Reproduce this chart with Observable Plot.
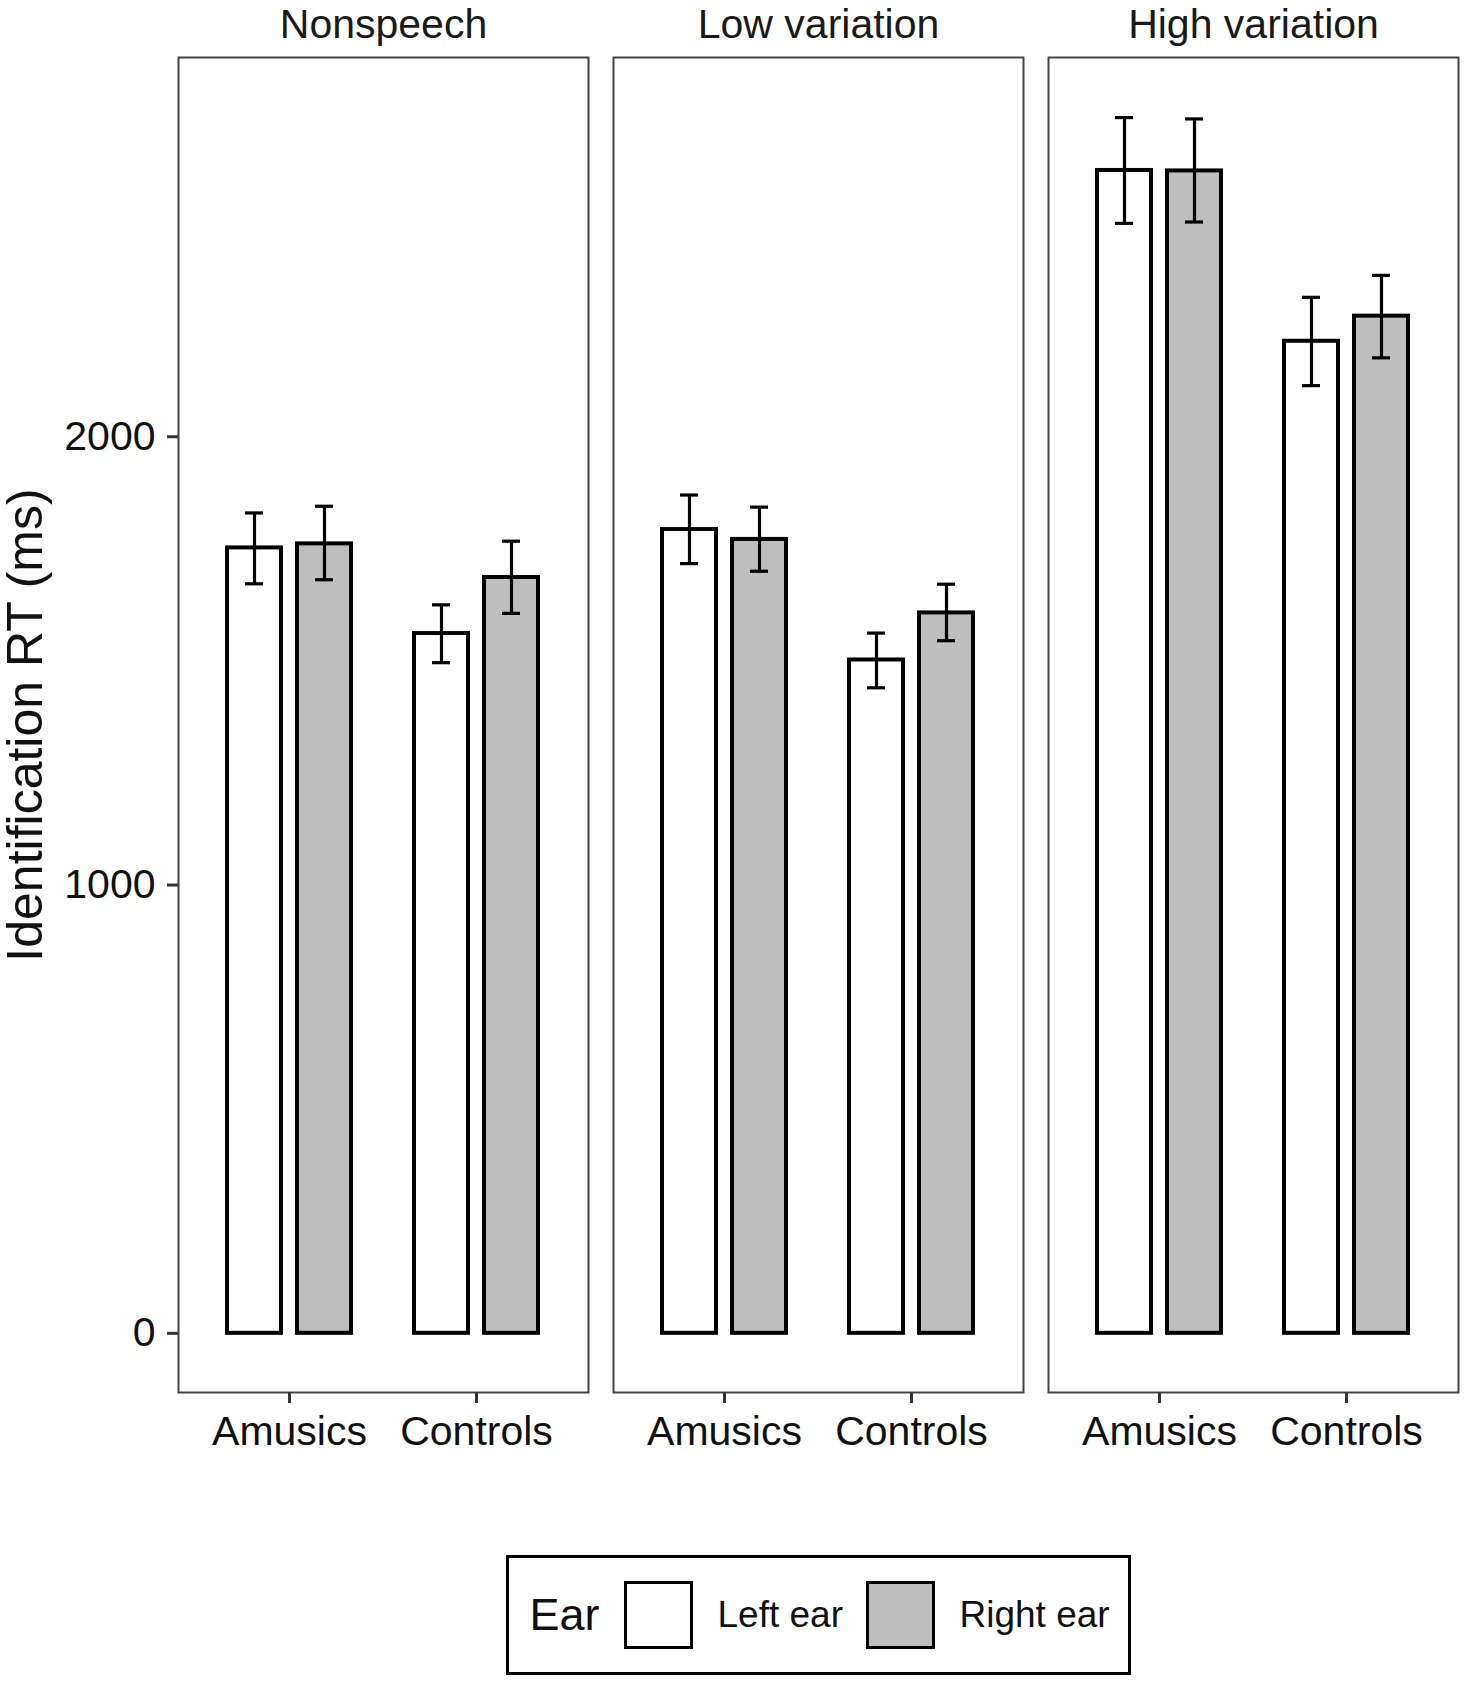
<!DOCTYPE html>
<html>
<head>
<meta charset="utf-8">
<script src="https://cdn.jsdelivr.net/npm/d3@7"></script>
<script src="https://cdn.jsdelivr.net/npm/@observablehq/plot@0.6"></script>
<style>
  html, body { margin: 0; padding: 0; background: #fff; }
  body { width: 1465px; font-family: "Liberation Sans", Arial, sans-serif; }
  #legendWrap { position: relative; width: 1465px; height: 181px; }
  #legendBox { position: absolute; left: 506px; top: 55px; width: 625px; height: 120px;
    box-sizing: border-box; border: 3.5px solid #000; background: #fff; }
  .lg { position: absolute; top: 56px; transform: translateY(-50%); line-height: 1; color: #111; white-space: nowrap; }
  .key { position: absolute; top: 22.5px; width: 69px; height: 68px; box-sizing: border-box; border: 3.5px solid #000; }
</style>
</head>
<body>
<div id="chart"></div>
<div id="legendWrap"><div id="legendBox"></div></div>
<script>
// ---- data ----
const conditions = ["Nonspeech", "Low variation", "High variation"];
const groups = ["Amusics", "Controls"];
const ears = ["Left ear", "Right ear"];
const earFills = ["#ffffff", "#bebebe"];
// order within each condition: Amusics-Left, Amusics-Right, Controls-Left, Controls-Right
const nonspeechMean = [1752, 1761, 1561, 1686];
const nonspeechLow  = [1672, 1681, 1496, 1606];
const nonspeechHigh = [1830, 1845, 1625, 1767];
const lowVarMean = [1793, 1771, 1502, 1607];
const lowVarLow  = [1717, 1700, 1440, 1545];
const lowVarHigh = [1870, 1843, 1562, 1671];
const highVarMean = [2594, 2593, 2213, 2269];
const highVarLow  = [2476, 2479, 2114, 2176];
const highVarHigh = [2712, 2709, 2311, 2360];
const yTicks = [0, 1000, 2000];
const yLimits = [-132, 2846];

const series = [
  [nonspeechMean, nonspeechLow, nonspeechHigh],
  [lowVarMean, lowVarLow, lowVarHigh],
  [highVarMean, highVarLow, highVarHigh]
];
const rows = [];
conditions.forEach((condition, ci) => {
  groups.forEach((group, gi) => {
    ears.forEach((ear, ei) => {
      const k = gi * 2 + ei;
      rows.push({condition, group, ear, mean: series[ci][0][k], lo: series[ci][1][k], hi: series[ci][2][k]});
    });
  });
});
const leftRows = rows.filter(d => d.ear === ears[0]);
const rightRows = rows.filter(d => d.ear === ears[1]);

const barStroke = 4;
const errStroke = 3.2;

const plot = Plot.plot({
  width: 1465,
  height: 1500,
  marginTop: 57,
  marginBottom: 108,
  marginLeft: 178,
  marginRight: 6,
  style: {fontFamily: "'Liberation Sans', Arial, sans-serif", background: "#fff", color: "#111", overflow: "visible"},
  fx: {domain: conditions, paddingInner: 0.0574, paddingOuter: 0, label: null},
  x: {domain: groups, paddingInner: 0.3155, paddingOuter: 0.254, label: null},
  y: {domain: yLimits, label: null},
  color: {domain: ears, range: earFills},
  marks: [
    Plot.frame({stroke: "#444", strokeWidth: 2}),
    Plot.axisFx({anchor: "top", tickSize: 0, tickPadding: 20, fontSize: 41, fill: "#1a1a1a", label: null}),
    Plot.axisX({anchor: "bottom", tickSize: 11, tickPadding: 12, fontSize: 41, stroke: "#333", strokeWidth: 3, fill: "#111", label: null}),
    Plot.axisY({anchor: "left", ticks: yTicks, tickFormat: d3.format("d"), tickSize: 11, tickPadding: 12, fontSize: 41,
      stroke: "#333", strokeWidth: 3, fill: "#111", label: null}),
    Plot.axisY({anchor: "left", ticks: [], tickSize: 0, fontSize: 50, fill: "#111",
      label: "Identification RT (ms)", labelAnchor: "center", labelOffset: 172, labelArrow: "none"}),
    Plot.barY(leftRows, {fx: "condition", x: "group", y: "mean", fill: "ear", stroke: "#000", strokeWidth: barStroke, insetLeft: 2, insetRight: 72}),
    Plot.barY(rightRows, {fx: "condition", x: "group", y: "mean", fill: "ear", stroke: "#000", strokeWidth: barStroke, insetLeft: 72, insetRight: 2}),
    Plot.ruleX(leftRows, {fx: "condition", x: "group", y1: "lo", y2: "hi", dx: -35, stroke: "#000", strokeWidth: errStroke}),
    Plot.ruleX(rightRows, {fx: "condition", x: "group", y1: "lo", y2: "hi", dx: 35, stroke: "#000", strokeWidth: errStroke}),
    Plot.tickY(leftRows, {fx: "condition", x: "group", y: "hi", insetLeft: 20, insetRight: 90, stroke: "#000", strokeWidth: errStroke}),
    Plot.tickY(leftRows, {fx: "condition", x: "group", y: "lo", insetLeft: 20, insetRight: 90, stroke: "#000", strokeWidth: errStroke}),
    Plot.tickY(rightRows, {fx: "condition", x: "group", y: "hi", insetLeft: 90, insetRight: 20, stroke: "#000", strokeWidth: errStroke}),
    Plot.tickY(rightRows, {fx: "condition", x: "group", y: "lo", insetLeft: 90, insetRight: 20, stroke: "#000", strokeWidth: errStroke})
  ]
});
document.getElementById("chart").appendChild(plot);

// ---- legend (HTML, colours from the plot's colour scale) ----
const color = plot.scale("color");
const box = document.getElementById("legendBox");
function add(cls, left, html, size) {
  const el = document.createElement("div");
  el.className = cls;
  el.style.left = left + "px";
  if (size) el.style.fontSize = size + "px";
  if (html != null) el.textContent = html;
  box.appendChild(el);
  return el;
}
add("lg", 20.5, "Ear", 45);
const keyLefts = [114.5, 356.5];
const textLefts = [208.5, 450.5];
color.domain.forEach((ear, i) => {
  const k = add("key", keyLefts[i], null);
  k.style.background = color.apply(ear);
  add("lg", textLefts[i], ear, 37);
});
</script>
</body>
</html>
